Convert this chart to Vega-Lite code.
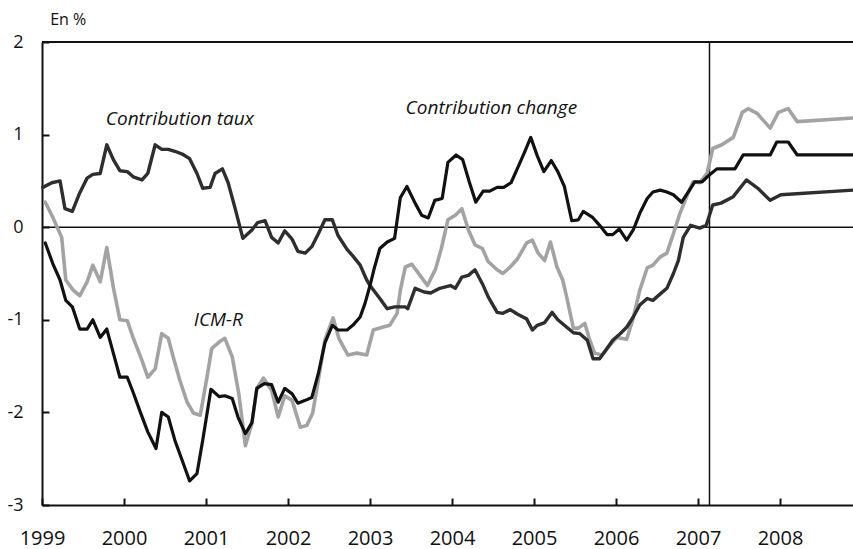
{
  "$schema": "https://vega.github.io/schema/vega-lite/v6.json",
  "width": 811,
  "height": 463,
  "autosize": {"type": "none"},
  "padding": {"left": 42, "top": 42, "right": 0, "bottom": 44},
  "background": "white",
  "config": {
    "view": {"stroke": null},
    "axis": {"domainColor": "#111", "domainWidth": 2, "tickColor": "#111", "tickWidth": 2, "grid": false, "labelFont": "Open Sans", "labelColor": "#111", "title": null}
  },
  "data": {"values": [
    {"serie":"ICM-R","annee":1999.04,"valeur":0.27},{"serie":"ICM-R","annee":1999.13,"valeur":0.11},{"serie":"ICM-R","annee":1999.24,"valeur":-0.11},{"serie":"ICM-R","annee":1999.29,"valeur":-0.57},{"serie":"ICM-R","annee":1999.38,"valeur":-0.68},{"serie":"ICM-R","annee":1999.46,"valeur":-0.74},{"serie":"ICM-R","annee":1999.55,"valeur":-0.59},{"serie":"ICM-R","annee":1999.62,"valeur":-0.41},{"serie":"ICM-R","annee":1999.71,"valeur":-0.59},{"serie":"ICM-R","annee":1999.79,"valeur":-0.22},{"serie":"ICM-R","annee":1999.87,"valeur":-0.65},{"serie":"ICM-R","annee":1999.95,"valeur":-1.0},{"serie":"ICM-R","annee":2000.04,"valeur":-1.01},{"serie":"ICM-R","annee":2000.11,"valeur":-1.19},{"serie":"ICM-R","annee":2000.22,"valeur":-1.44},{"serie":"ICM-R","annee":2000.29,"valeur":-1.62},{"serie":"ICM-R","annee":2000.38,"valeur":-1.53},{"serie":"ICM-R","annee":2000.46,"valeur":-1.15},{"serie":"ICM-R","annee":2000.54,"valeur":-1.2},{"serie":"ICM-R","annee":2000.6,"valeur":-1.4},{"serie":"ICM-R","annee":2000.68,"valeur":-1.65},{"serie":"ICM-R","annee":2000.77,"valeur":-1.89},{"serie":"ICM-R","annee":2000.85,"valeur":-2.01},{"serie":"ICM-R","annee":2000.93,"valeur":-2.03},{"serie":"ICM-R","annee":2001.01,"valeur":-1.63},{"serie":"ICM-R","annee":2001.07,"valeur":-1.31},{"serie":"ICM-R","annee":2001.16,"valeur":-1.24},{"serie":"ICM-R","annee":2001.23,"valeur":-1.2},{"serie":"ICM-R","annee":2001.32,"valeur":-1.4},{"serie":"ICM-R","annee":2001.4,"valeur":-1.8},{"serie":"ICM-R","annee":2001.48,"valeur":-2.36},{"serie":"ICM-R","annee":2001.56,"valeur":-2.12},{"serie":"ICM-R","annee":2001.62,"valeur":-1.74},{"serie":"ICM-R","annee":2001.7,"valeur":-1.63},{"serie":"ICM-R","annee":2001.8,"valeur":-1.76},{"serie":"ICM-R","annee":2001.88,"valeur":-2.05},{"serie":"ICM-R","annee":2001.96,"valeur":-1.82},{"serie":"ICM-R","annee":2002.05,"valeur":-1.87},{"serie":"ICM-R","annee":2002.15,"valeur":-2.16},{"serie":"ICM-R","annee":2002.23,"valeur":-2.14},{"serie":"ICM-R","annee":2002.3,"valeur":-2.01},{"serie":"ICM-R","annee":2002.37,"valeur":-1.65},{"serie":"ICM-R","annee":2002.45,"valeur":-1.22},{"serie":"ICM-R","annee":2002.55,"valeur":-0.98},{"serie":"ICM-R","annee":2002.62,"valeur":-1.2},{"serie":"ICM-R","annee":2002.73,"valeur":-1.38},{"serie":"ICM-R","annee":2002.84,"valeur":-1.36},{"serie":"ICM-R","annee":2002.96,"valeur":-1.38},{"serie":"ICM-R","annee":2003.04,"valeur":-1.11},{"serie":"ICM-R","annee":2003.15,"valeur":-1.08},{"serie":"ICM-R","annee":2003.24,"valeur":-1.06},{"serie":"ICM-R","annee":2003.33,"valeur":-0.93},{"serie":"ICM-R","annee":2003.37,"valeur":-0.68},{"serie":"ICM-R","annee":2003.43,"valeur":-0.43},{"serie":"ICM-R","annee":2003.51,"valeur":-0.4},{"serie":"ICM-R","annee":2003.61,"valeur":-0.52},{"serie":"ICM-R","annee":2003.7,"valeur":-0.63},{"serie":"ICM-R","annee":2003.8,"valeur":-0.45},{"serie":"ICM-R","annee":2003.87,"valeur":-0.23},{"serie":"ICM-R","annee":2003.95,"valeur":0.08},{"serie":"ICM-R","annee":2004.04,"valeur":0.13},{"serie":"ICM-R","annee":2004.12,"valeur":0.2},{"serie":"ICM-R","annee":2004.2,"valeur":-0.03},{"serie":"ICM-R","annee":2004.28,"valeur":-0.19},{"serie":"ICM-R","annee":2004.37,"valeur":-0.23},{"serie":"ICM-R","annee":2004.44,"valeur":-0.37},{"serie":"ICM-R","annee":2004.55,"valeur":-0.46},{"serie":"ICM-R","annee":2004.62,"valeur":-0.5},{"serie":"ICM-R","annee":2004.71,"valeur":-0.43},{"serie":"ICM-R","annee":2004.8,"valeur":-0.34},{"serie":"ICM-R","annee":2004.91,"valeur":-0.17},{"serie":"ICM-R","annee":2004.98,"valeur":-0.14},{"serie":"ICM-R","annee":2005.05,"valeur":-0.28},{"serie":"ICM-R","annee":2005.13,"valeur":-0.36},{"serie":"ICM-R","annee":2005.2,"valeur":-0.16},{"serie":"ICM-R","annee":2005.28,"valeur":-0.43},{"serie":"ICM-R","annee":2005.35,"valeur":-0.57},{"serie":"ICM-R","annee":2005.4,"valeur":-0.76},{"serie":"ICM-R","annee":2005.48,"valeur":-1.09},{"serie":"ICM-R","annee":2005.54,"valeur":-1.09},{"serie":"ICM-R","annee":2005.62,"valeur":-1.04},{"serie":"ICM-R","annee":2005.68,"valeur":-1.22},{"serie":"ICM-R","annee":2005.74,"valeur":-1.36},{"serie":"ICM-R","annee":2005.83,"valeur":-1.38},{"serie":"ICM-R","annee":2005.9,"valeur":-1.3},{"serie":"ICM-R","annee":2006.01,"valeur":-1.19},{"serie":"ICM-R","annee":2006.13,"valeur":-1.21},{"serie":"ICM-R","annee":2006.21,"valeur":-0.98},{"serie":"ICM-R","annee":2006.29,"valeur":-0.68},{"serie":"ICM-R","annee":2006.38,"valeur":-0.44},{"serie":"ICM-R","annee":2006.45,"valeur":-0.41},{"serie":"ICM-R","annee":2006.54,"valeur":-0.32},{"serie":"ICM-R","annee":2006.62,"valeur":-0.28},{"serie":"ICM-R","annee":2006.7,"valeur":-0.07},{"serie":"ICM-R","annee":2006.78,"valeur":0.15},{"serie":"ICM-R","annee":2006.87,"valeur":0.35},{"serie":"ICM-R","annee":2006.94,"valeur":0.49},{"serie":"ICM-R","annee":2007.02,"valeur":0.48},{"serie":"ICM-R","annee":2007.11,"valeur":0.58},{"serie":"ICM-R","annee":2007.18,"valeur":0.85},{"serie":"ICM-R","annee":2007.29,"valeur":0.89},{"serie":"ICM-R","annee":2007.43,"valeur":0.97},{"serie":"ICM-R","annee":2007.54,"valeur":1.24},{"serie":"ICM-R","annee":2007.61,"valeur":1.28},{"serie":"ICM-R","annee":2007.72,"valeur":1.23},{"serie":"ICM-R","annee":2007.88,"valeur":1.07},{"serie":"ICM-R","annee":2007.98,"valeur":1.24},{"serie":"ICM-R","annee":2008.1,"valeur":1.28},{"serie":"ICM-R","annee":2008.21,"valeur":1.14},{"serie":"ICM-R","annee":2008.89,"valeur":1.18},
    {"serie":"Contribution taux","annee":1999.01,"valeur":0.43},{"serie":"Contribution taux","annee":1999.12,"valeur":0.48},{"serie":"Contribution taux","annee":1999.22,"valeur":0.5},{"serie":"Contribution taux","annee":1999.28,"valeur":0.2},{"serie":"Contribution taux","annee":1999.37,"valeur":0.17},{"serie":"Contribution taux","annee":1999.46,"valeur":0.37},{"serie":"Contribution taux","annee":1999.55,"valeur":0.53},{"serie":"Contribution taux","annee":1999.62,"valeur":0.57},{"serie":"Contribution taux","annee":1999.71,"valeur":0.58},{"serie":"Contribution taux","annee":1999.79,"valeur":0.89},{"serie":"Contribution taux","annee":1999.87,"valeur":0.73},{"serie":"Contribution taux","annee":1999.95,"valeur":0.61},{"serie":"Contribution taux","annee":2000.04,"valeur":0.6},{"serie":"Contribution taux","annee":2000.12,"valeur":0.54},{"serie":"Contribution taux","annee":2000.22,"valeur":0.51},{"serie":"Contribution taux","annee":2000.29,"valeur":0.58},{"serie":"Contribution taux","annee":2000.38,"valeur":0.89},{"serie":"Contribution taux","annee":2000.46,"valeur":0.84},{"serie":"Contribution taux","annee":2000.54,"valeur":0.84},{"serie":"Contribution taux","annee":2000.62,"valeur":0.82},{"serie":"Contribution taux","annee":2000.71,"valeur":0.79},{"serie":"Contribution taux","annee":2000.8,"valeur":0.74},{"serie":"Contribution taux","annee":2000.89,"valeur":0.58},{"serie":"Contribution taux","annee":2000.96,"valeur":0.42},{"serie":"Contribution taux","annee":2001.05,"valeur":0.43},{"serie":"Contribution taux","annee":2001.11,"valeur":0.58},{"serie":"Contribution taux","annee":2001.2,"valeur":0.63},{"serie":"Contribution taux","annee":2001.27,"valeur":0.48},{"serie":"Contribution taux","annee":2001.35,"valeur":0.22},{"serie":"Contribution taux","annee":2001.45,"valeur":-0.12},{"serie":"Contribution taux","annee":2001.56,"valeur":-0.03},{"serie":"Contribution taux","annee":2001.63,"valeur":0.05},{"serie":"Contribution taux","annee":2001.72,"valeur":0.07},{"serie":"Contribution taux","annee":2001.8,"valeur":-0.11},{"serie":"Contribution taux","annee":2001.88,"valeur":-0.17},{"serie":"Contribution taux","annee":2001.96,"valeur":-0.04},{"serie":"Contribution taux","annee":2002.05,"valeur":-0.13},{"serie":"Contribution taux","annee":2002.12,"valeur":-0.26},{"serie":"Contribution taux","annee":2002.21,"valeur":-0.28},{"serie":"Contribution taux","annee":2002.29,"valeur":-0.21},{"serie":"Contribution taux","annee":2002.37,"valeur":-0.07},{"serie":"Contribution taux","annee":2002.45,"valeur":0.08},{"serie":"Contribution taux","annee":2002.54,"valeur":0.08},{"serie":"Contribution taux","annee":2002.61,"valeur":-0.09},{"serie":"Contribution taux","annee":2002.72,"valeur":-0.24},{"serie":"Contribution taux","annee":2002.79,"valeur":-0.31},{"serie":"Contribution taux","annee":2002.88,"valeur":-0.41},{"serie":"Contribution taux","annee":2002.96,"valeur":-0.57},{"serie":"Contribution taux","annee":2003.0,"valeur":-0.63},{"serie":"Contribution taux","annee":2003.12,"valeur":-0.77},{"serie":"Contribution taux","annee":2003.21,"valeur":-0.88},{"serie":"Contribution taux","annee":2003.3,"valeur":-0.86},{"serie":"Contribution taux","annee":2003.43,"valeur":-0.86},{"serie":"Contribution taux","annee":2003.46,"valeur":-0.88},{"serie":"Contribution taux","annee":2003.55,"valeur":-0.66},{"serie":"Contribution taux","annee":2003.66,"valeur":-0.7},{"serie":"Contribution taux","annee":2003.74,"valeur":-0.71},{"serie":"Contribution taux","annee":2003.85,"valeur":-0.66},{"serie":"Contribution taux","annee":2003.98,"valeur":-0.63},{"serie":"Contribution taux","annee":2004.04,"valeur":-0.66},{"serie":"Contribution taux","annee":2004.12,"valeur":-0.54},{"serie":"Contribution taux","annee":2004.2,"valeur":-0.52},{"serie":"Contribution taux","annee":2004.28,"valeur":-0.46},{"serie":"Contribution taux","annee":2004.37,"valeur":-0.61},{"serie":"Contribution taux","annee":2004.44,"valeur":-0.75},{"serie":"Contribution taux","annee":2004.55,"valeur":-0.92},{"serie":"Contribution taux","annee":2004.62,"valeur":-0.93},{"serie":"Contribution taux","annee":2004.71,"valeur":-0.89},{"serie":"Contribution taux","annee":2004.8,"valeur":-0.94},{"serie":"Contribution taux","annee":2004.91,"valeur":-0.99},{"serie":"Contribution taux","annee":2004.98,"valeur":-1.11},{"serie":"Contribution taux","annee":2005.04,"valeur":-1.06},{"serie":"Contribution taux","annee":2005.13,"valeur":-1.03},{"serie":"Contribution taux","annee":2005.22,"valeur":-0.92},{"serie":"Contribution taux","annee":2005.29,"valeur":-1.0},{"serie":"Contribution taux","annee":2005.4,"valeur":-1.08},{"serie":"Contribution taux","annee":2005.48,"valeur":-1.14},{"serie":"Contribution taux","annee":2005.56,"valeur":-1.15},{"serie":"Contribution taux","annee":2005.65,"valeur":-1.22},{"serie":"Contribution taux","annee":2005.72,"valeur":-1.42},{"serie":"Contribution taux","annee":2005.8,"valeur":-1.42},{"serie":"Contribution taux","annee":2005.89,"valeur":-1.31},{"serie":"Contribution taux","annee":2005.96,"valeur":-1.22},{"serie":"Contribution taux","annee":2006.05,"valeur":-1.15},{"serie":"Contribution taux","annee":2006.13,"valeur":-1.08},{"serie":"Contribution taux","annee":2006.21,"valeur":-0.97},{"serie":"Contribution taux","annee":2006.29,"valeur":-0.84},{"serie":"Contribution taux","annee":2006.38,"valeur":-0.77},{"serie":"Contribution taux","annee":2006.45,"valeur":-0.79},{"serie":"Contribution taux","annee":2006.54,"valeur":-0.72},{"serie":"Contribution taux","annee":2006.62,"valeur":-0.66},{"serie":"Contribution taux","annee":2006.7,"valeur":-0.5},{"serie":"Contribution taux","annee":2006.76,"valeur":-0.36},{"serie":"Contribution taux","annee":2006.82,"valeur":-0.11},{"serie":"Contribution taux","annee":2006.91,"valeur":0.02},{"serie":"Contribution taux","annee":2007.02,"valeur":-0.01},{"serie":"Contribution taux","annee":2007.1,"valeur":0.02},{"serie":"Contribution taux","annee":2007.18,"valeur":0.24},{"serie":"Contribution taux","annee":2007.28,"valeur":0.26},{"serie":"Contribution taux","annee":2007.43,"valeur":0.33},{"serie":"Contribution taux","annee":2007.59,"valeur":0.51},{"serie":"Contribution taux","annee":2007.73,"valeur":0.42},{"serie":"Contribution taux","annee":2007.88,"valeur":0.29},{"serie":"Contribution taux","annee":2008.01,"valeur":0.35},{"serie":"Contribution taux","annee":2008.89,"valeur":0.4},
    {"serie":"Contribution change","annee":1999.04,"valeur":-0.17},{"serie":"Contribution change","annee":1999.13,"valeur":-0.39},{"serie":"Contribution change","annee":1999.22,"valeur":-0.57},{"serie":"Contribution change","annee":1999.29,"valeur":-0.79},{"serie":"Contribution change","annee":1999.37,"valeur":-0.86},{"serie":"Contribution change","annee":1999.46,"valeur":-1.1},{"serie":"Contribution change","annee":1999.55,"valeur":-1.1},{"serie":"Contribution change","annee":1999.62,"valeur":-1.0},{"serie":"Contribution change","annee":1999.71,"valeur":-1.19},{"serie":"Contribution change","annee":1999.79,"valeur":-1.1},{"serie":"Contribution change","annee":1999.87,"valeur":-1.36},{"serie":"Contribution change","annee":1999.95,"valeur":-1.62},{"serie":"Contribution change","annee":2000.04,"valeur":-1.62},{"serie":"Contribution change","annee":2000.11,"valeur":-1.78},{"serie":"Contribution change","annee":2000.2,"valeur":-2.0},{"serie":"Contribution change","annee":2000.29,"valeur":-2.21},{"serie":"Contribution change","annee":2000.39,"valeur":-2.39},{"serie":"Contribution change","annee":2000.46,"valeur":-2.0},{"serie":"Contribution change","annee":2000.54,"valeur":-2.05},{"serie":"Contribution change","annee":2000.62,"valeur":-2.3},{"serie":"Contribution change","annee":2000.71,"valeur":-2.52},{"serie":"Contribution change","annee":2000.8,"valeur":-2.74},{"serie":"Contribution change","annee":2000.89,"valeur":-2.66},{"serie":"Contribution change","annee":2000.96,"valeur":-2.3},{"serie":"Contribution change","annee":2001.06,"valeur":-1.75},{"serie":"Contribution change","annee":2001.16,"valeur":-1.83},{"serie":"Contribution change","annee":2001.23,"valeur":-1.82},{"serie":"Contribution change","annee":2001.32,"valeur":-1.85},{"serie":"Contribution change","annee":2001.39,"valeur":-2.05},{"serie":"Contribution change","annee":2001.48,"valeur":-2.23},{"serie":"Contribution change","annee":2001.56,"valeur":-2.11},{"serie":"Contribution change","annee":2001.62,"valeur":-1.74},{"serie":"Contribution change","annee":2001.71,"valeur":-1.69},{"serie":"Contribution change","annee":2001.8,"valeur":-1.7},{"serie":"Contribution change","annee":2001.88,"valeur":-1.89},{"serie":"Contribution change","annee":2001.96,"valeur":-1.74},{"serie":"Contribution change","annee":2002.05,"valeur":-1.8},{"serie":"Contribution change","annee":2002.12,"valeur":-1.9},{"serie":"Contribution change","annee":2002.21,"valeur":-1.87},{"serie":"Contribution change","annee":2002.29,"valeur":-1.84},{"serie":"Contribution change","annee":2002.37,"valeur":-1.58},{"serie":"Contribution change","annee":2002.45,"valeur":-1.25},{"serie":"Contribution change","annee":2002.54,"valeur":-1.06},{"serie":"Contribution change","annee":2002.61,"valeur":-1.11},{"serie":"Contribution change","annee":2002.72,"valeur":-1.11},{"serie":"Contribution change","annee":2002.79,"valeur":-1.06},{"serie":"Contribution change","annee":2002.88,"valeur":-0.97},{"serie":"Contribution change","annee":2002.94,"valeur":-0.82},{"serie":"Contribution change","annee":2003.0,"valeur":-0.63},{"serie":"Contribution change","annee":2003.05,"valeur":-0.45},{"serie":"Contribution change","annee":2003.12,"valeur":-0.23},{"serie":"Contribution change","annee":2003.21,"valeur":-0.16},{"serie":"Contribution change","annee":2003.3,"valeur":-0.12},{"serie":"Contribution change","annee":2003.37,"valeur":0.32},{"serie":"Contribution change","annee":2003.45,"valeur":0.44},{"serie":"Contribution change","annee":2003.55,"valeur":0.26},{"serie":"Contribution change","annee":2003.63,"valeur":0.13},{"serie":"Contribution change","annee":2003.71,"valeur":0.1},{"serie":"Contribution change","annee":2003.79,"valeur":0.29},{"serie":"Contribution change","annee":2003.88,"valeur":0.31},{"serie":"Contribution change","annee":2003.95,"valeur":0.7},{"serie":"Contribution change","annee":2004.05,"valeur":0.78},{"serie":"Contribution change","annee":2004.13,"valeur":0.73},{"serie":"Contribution change","annee":2004.21,"valeur":0.49},{"serie":"Contribution change","annee":2004.29,"valeur":0.27},{"serie":"Contribution change","annee":2004.38,"valeur":0.39},{"serie":"Contribution change","annee":2004.46,"valeur":0.39},{"serie":"Contribution change","annee":2004.55,"valeur":0.43},{"serie":"Contribution change","annee":2004.63,"valeur":0.43},{"serie":"Contribution change","annee":2004.72,"valeur":0.48},{"serie":"Contribution change","annee":2004.79,"valeur":0.62},{"serie":"Contribution change","annee":2004.88,"valeur":0.8},{"serie":"Contribution change","annee":2004.96,"valeur":0.97},{"serie":"Contribution change","annee":2005.04,"valeur":0.77},{"serie":"Contribution change","annee":2005.12,"valeur":0.6},{"serie":"Contribution change","annee":2005.21,"valeur":0.72},{"serie":"Contribution change","annee":2005.29,"valeur":0.6},{"serie":"Contribution change","annee":2005.37,"valeur":0.44},{"serie":"Contribution change","annee":2005.46,"valeur":0.07},{"serie":"Contribution change","annee":2005.54,"valeur":0.08},{"serie":"Contribution change","annee":2005.6,"valeur":0.17},{"serie":"Contribution change","annee":2005.71,"valeur":0.11},{"serie":"Contribution change","annee":2005.8,"valeur":0.02},{"serie":"Contribution change","annee":2005.89,"valeur":-0.08},{"serie":"Contribution change","annee":2005.96,"valeur":-0.08},{"serie":"Contribution change","annee":2006.04,"valeur":-0.02},{"serie":"Contribution change","annee":2006.13,"valeur":-0.14},{"serie":"Contribution change","annee":2006.21,"valeur":-0.03},{"serie":"Contribution change","annee":2006.29,"valeur":0.15},{"serie":"Contribution change","annee":2006.38,"valeur":0.31},{"serie":"Contribution change","annee":2006.45,"valeur":0.38},{"serie":"Contribution change","annee":2006.54,"valeur":0.4},{"serie":"Contribution change","annee":2006.62,"valeur":0.38},{"serie":"Contribution change","annee":2006.7,"valeur":0.35},{"serie":"Contribution change","annee":2006.8,"valeur":0.27},{"serie":"Contribution change","annee":2006.88,"valeur":0.38},{"serie":"Contribution change","annee":2006.96,"valeur":0.49},{"serie":"Contribution change","annee":2007.05,"valeur":0.49},{"serie":"Contribution change","annee":2007.12,"valeur":0.55},{"serie":"Contribution change","annee":2007.23,"valeur":0.63},{"serie":"Contribution change","annee":2007.45,"valeur":0.63},{"serie":"Contribution change","annee":2007.55,"valeur":0.78},{"serie":"Contribution change","annee":2007.88,"valeur":0.78},{"serie":"Contribution change","annee":2007.96,"valeur":0.92},{"serie":"Contribution change","annee":2008.1,"valeur":0.92},{"serie":"Contribution change","annee":2008.21,"valeur":0.78},{"serie":"Contribution change","annee":2008.89,"valeur":0.78}
  ]},
  "layer": [
    {
      "data": {"values": [{}]},
      "mark": {"type": "rule", "color": "#111", "strokeWidth": 1.6},
      "encoding": {"y": {"datum": 0, "type": "quantitative"}}
    },
    {
      "data": {"values": [{}]},
      "mark": {"type": "rule", "color": "#111", "strokeWidth": 2},
      "encoding": {"y": {"datum": 2, "type": "quantitative"}}
    },
    {
      "data": {"values": [{}]},
      "mark": {"type": "rule", "color": "#111", "strokeWidth": 1.5},
      "encoding": {"x": {"datum": 2007.14, "type": "quantitative"}}
    },
    {
      "mark": {"type": "line", "strokeJoin": "round", "strokeCap": "round"},
      "encoding": {
        "x": {"field": "annee", "type": "quantitative", "scale": {"domain": [1999, 2008.89], "nice": false, "zero": false},
              "axis": {"values": [1999, 2000, 2001, 2002, 2003, 2004, 2005, 2006, 2007, 2008], "format": "d", "labelFontSize": 20, "tickSize": -7, "labelPadding": 30, "labelFlush": false}},
        "y": {"field": "valeur", "type": "quantitative", "scale": {"domain": [-3, 2], "nice": false, "zero": false},
              "axis": {"values": [-3, -2, -1, 0, 1, 2], "labelExpr": "'' + datum.value", "labelFontSize": 18, "tickSize": -7, "labelPadding": 26, "labelFlush": false}},
        "color": {"field": "serie", "type": "nominal", "legend": null,
                  "scale": {"domain": ["ICM-R", "Contribution taux", "Contribution change"], "range": ["#a3a3a3", "#2e2e2e", "#111111"]}},
        "strokeWidth": {"field": "serie", "type": "nominal", "legend": null,
                  "scale": {"domain": ["ICM-R", "Contribution taux", "Contribution change"], "range": [3.6, 3.2, 1.8]}},
        "order": {"field": "annee", "type": "quantitative"}
      }
    },
    {
      "data": {"values": [{}]},
      "mark": {"type": "text", "font": "Open Sans", "fontStyle": "italic", "fontSize": 19, "fill": "#111"},
      "encoding": {"x": {"datum": 2000.68, "type": "quantitative"}, "y": {"datum": 1.17, "type": "quantitative"}, "text": {"value": "Contribution taux"}}
    },
    {
      "data": {"values": [{}]},
      "mark": {"type": "text", "font": "Open Sans", "fontStyle": "italic", "fontSize": 19, "fill": "#111"},
      "encoding": {"x": {"datum": 2004.48, "type": "quantitative"}, "y": {"datum": 1.29, "type": "quantitative"}, "text": {"value": "Contribution change"}}
    },
    {
      "data": {"values": [{}]},
      "mark": {"type": "text", "font": "Open Sans", "fontStyle": "italic", "fontSize": 19, "fill": "#111"},
      "encoding": {"x": {"datum": 2001.15, "type": "quantitative"}, "y": {"datum": -1.0, "type": "quantitative"}, "text": {"value": "ICM-R"}}
    },
    {
      "data": {"values": [{}]},
      "mark": {"type": "text", "font": "Open Sans", "fontSize": 16, "fill": "#111"},
      "encoding": {"x": {"datum": 1999.32, "type": "quantitative"}, "y": {"datum": 2.24, "type": "quantitative"}, "text": {"value": "En %"}}
    }
  ]
}
